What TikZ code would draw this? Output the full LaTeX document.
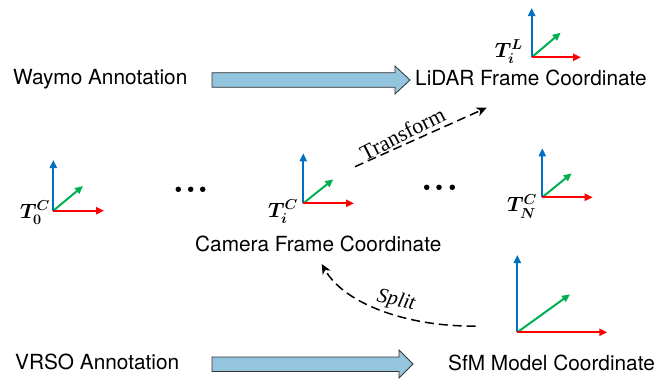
\documentclass[tikz,border=0pt]{standalone}
\usepackage{fontspec}
\setmainfont{TeX Gyre Heros}
\newfontfamily\serifx{Liberation Serif}
\usetikzlibrary{arrows.meta}
\definecolor{axblue}{RGB}{0,112,192}
\definecolor{axred}{RGB}{255,0,0}
\definecolor{axgreen}{RGB}{0,176,80}
\definecolor{barfill}{RGB}{147,197,222}
\begin{document}
\begin{tikzpicture}[x=1pt,y=-1pt,
  lbl/.style={inner sep=0pt, font=\fontsize{20.8}{24}\selectfont, anchor=base west},
  mlbl/.style={inner sep=0pt, font=\fontsize{20}{24}\selectfont\boldmath, anchor=base east},
  ax/.style={line width=2pt, -{Triangle[length=8pt,width=7pt]}},
  barrow/.style={draw=black!80, line width=0.8pt, fill=barfill},
  dashedarrow/.style={line width=1.5pt, dash pattern=on 9pt off 5pt, -{Stealth[length=10pt,width=9pt,inset=3pt]}},
  dotc/.style={circle, fill=black, inner sep=0pt, minimum size=5.5pt}]
\useasboundingbox (0,0) rectangle (667,378);

% text labels
\node[lbl] (waymo) at (13,84.3) {Waymo Annotation};
\node[lbl] (lidar) at (415,85) {LiDAR Frame Coordinate};
\node[lbl] (camera) at (195,251.7) {Camera Frame Coordinate};
\node[lbl] (vrso) at (15,369.3) {VRSO Annotation};
\node[lbl] (sfm) at (448,370) {SfM Model Coordinate};

% block arrows
\draw[barrow] (212,72.7) -- (395,72.7) -- (395,66) -- (410,80) -- (395,94) -- (395,87.3) -- (212,87.3) -- cycle;
\draw[barrow] (212,357) -- (399,357) -- (399,350) -- (413,364) -- (399,378) -- (399,371.5) -- (212,371.5) -- cycle;

% frames
\coordinate (o0) at (53.3,210.7);
\draw[ax, axgreen] (o0) -- (83,186);
\draw[ax, axblue] (o0) -- (53.3,160);
\draw[ax, axred] (o0) -- (104,210.7);
\node[mlbl] (t0) at (50,218) {$T_0^C$};

\coordinate (oi) at (303.3,203.3);
\draw[ax, axgreen] (oi) -- (333.3,179.3);
\draw[ax, axblue] (oi) -- (303.3,153.3);
\draw[ax, axred] (oi) -- (354,203.3);
\node[mlbl] (ti) at (298,217) {$T_i^C$};

\coordinate (oN) at (542.3,197.3);
\draw[ax, axgreen] (oN) -- (571.7,173.3);
\draw[ax, axblue] (oN) -- (542.3,148.3);
\draw[ax, axred] (oN) -- (592.7,197.3);
\node[mlbl] (tN) at (537,211.7) {$T_N^C$};

\coordinate (oL) at (531.7,57.3);
\draw[ax, axgreen] (oL) -- (560.7,32.7);
\draw[ax, axblue] (oL) -- (531.7,8);
\draw[ax, axred] (oL) -- (581,57.3);
\node[mlbl] (tL) at (523,57.3) {$T_i^L$};

\coordinate (oS) at (517.3,332.3);
\draw[ax, axgreen] (oS) -- (570,294.3);
\draw[ax, axblue] (oS) -- (517.3,255);
\draw[ax, axred] (oS) -- (607.3,332.3);

% dots
\foreach \x in {178.3,190.7,202.7} \node[dotc] at (\x,189.3) {};
\foreach \x in {426.7,439,452.3} \node[dotc] at (\x,187.3) {};

% transform
\coordinate (trs) at (355,166.7);
\coordinate (tre) at (486.7,107.7);
\draw[dashedarrow] (trs) -- (tre);
\node[rotate=27, inner sep=0pt, font=\serifx\fontsize{22}{24}\selectfont] (trl) at (402.5,133.5) {Transform};

% split
\coordinate (sps) at (475.7,326);
\coordinate (spe) at (321.7,264);
\draw[dashedarrow] (sps) .. controls (410,327) and (345,305) .. (spe);
\node[rotate=-13, inner sep=0pt, font=\serifx\itshape\fontsize{21}{24}\selectfont] (spl) at (396,301) {Split};
\end{tikzpicture}
\end{document}
